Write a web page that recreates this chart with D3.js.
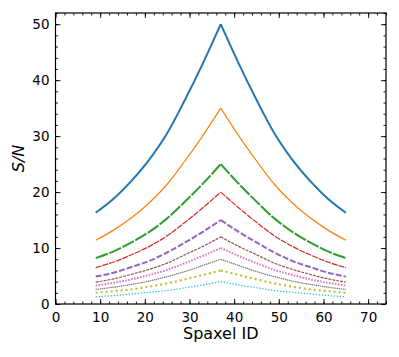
<!DOCTYPE html>
<html lang="en">
  <head>
    <meta charset="UTF-8" />
    <title>S/N per spaxel</title>
    <style>
      body {
        margin: 0;
        background: #fff;
        font-family: "DejaVu Sans", sans-serif;
      }
    </style>
  </head>
  <body>
    <script src="https://cdn.jsdelivr.net/npm/d3@7"></script>
    <script>
      // spaxel positions
      var spaxels = [9, 13, 17, 21, 25, 29, 33, 37, 41, 45, 49, 53, 57, 61, 65];

      var sn50 = [16.3, 18.8, 22.0, 25.8, 30.5, 36.5, 43.0, 50.0, 43.0, 36.5, 30.5, 25.8, 22.0, 18.8, 16.3];
      var sn35 = [11.4, 13.2, 15.4, 18.1, 21.4, 25.6, 30.1, 35.0, 30.1, 25.6, 21.4, 18.1, 15.4, 13.2, 11.4];
      var sn25 = [8.2, 9.4, 11.0, 12.9, 15.3, 18.3, 21.5, 25.0, 21.5, 18.3, 15.3, 12.9, 11.0, 9.4, 8.2];
      var sn20 = [6.5, 7.5, 8.8, 10.3, 12.2, 14.6, 17.2, 20.0, 17.2, 14.6, 12.2, 10.3, 8.8, 7.5, 6.5];
      var sn15 = [4.9, 5.6, 6.6, 7.7, 9.2, 11.0, 12.9, 15.0, 12.9, 11.0, 9.2, 7.7, 6.6, 5.6, 4.9];
      var sn12 = [3.9, 4.5, 5.3, 6.2, 7.3, 8.8, 10.3, 12.0, 10.3, 8.8, 7.3, 6.2, 5.3, 4.5, 3.9];
      var sn10 = [3.3, 3.8, 4.4, 5.2, 6.1, 7.3, 8.6, 10.0, 8.6, 7.3, 6.1, 5.2, 4.4, 3.8, 3.3];
      var sn8 = [2.6, 3.0, 3.5, 4.1, 4.9, 5.8, 6.9, 8.0, 6.9, 5.8, 4.9, 4.1, 3.5, 3.0, 2.6];
      var sn6 = [2.0, 2.3, 2.6, 3.1, 3.7, 4.4, 5.2, 6.0, 5.2, 4.4, 3.7, 3.1, 2.6, 2.3, 2.0];
      var sn4 = [1.3, 1.5, 1.8, 2.1, 2.4, 2.9, 3.4, 4.0, 3.4, 2.9, 2.4, 2.1, 1.8, 1.5, 1.3];

      var xTicks = [0, 10, 20, 30, 40, 50, 60, 70];
      var yTicks = [0, 10, 20, 30, 40, 50];

      var series = [sn50, sn35, sn25, sn20, sn15, sn12, sn10, sn8, sn6, sn4];
      var colors = ["#1f77b4", "#ff7f0e", "#2ca02c", "#d62728", "#9467bd",
                    "#8c564b", "#e377c2", "#7f7f7f", "#bcbd22", "#17becf"];
      var widths = [2, 1.2, 2, 1.2, 2, 1.2, 2, 1.2, 2, 1.2];
      var dashes = [null, null, "13,1.5", "6,1", "6,2", "3,1", "1.6,1.4", "1.5,0.6", "2,3", "1.3,1.7"];

      var W = 399, H = 357;
      var m = { left: 55.5, right: 13, top: 13, bottom: 53 };
      var peak = spaxels.indexOf(37);

      var svg = d3.select("body").append("svg").attr("width", W).attr("height", H);

      var x = d3.scaleLinear().domain([0, 74]).range([m.left, W - m.right]);
      var y = d3.scaleLinear().domain([0, 52]).range([H - m.bottom, m.top]);

      var line = d3.line()
        .x(function(d) { return x(d[0]); })
        .y(function(d) { return y(d[1]); })
        .curve(d3.curveMonotoneX);

      // each curve is drawn as two halves so the peak stays sharp
      series.forEach(function(vals, i) {
        var pts = vals.map(function(v, j) { return [spaxels[j], v]; });
        var halves = [pts.slice(0, peak + 1), pts.slice(peak)];
        svg.selectAll("path.s" + i)
          .data(halves)
          .enter()
          .append("path")
          .attr("class", "s" + i)
          .attr("d", line)
          .attr("fill", "none")
          .attr("stroke", colors[i])
          .attr("stroke-width", widths[i])
          .attr("stroke-dasharray", dashes[i]);
      });

      // ticks on all four sides, pointing in
      var xMinor = d3.range(0, 75, 2);
      var yMinor = d3.range(0, 53, 2);

      function ticks(g, axis, scale, major, minor) {
        var g1 = g.append("g");
        g1.call(axis(scale).tickValues(minor).tickSize(-2.5).tickFormat(""));
        g1.select(".domain").remove();
        var g2 = g.append("g");
        g2.call(axis(scale).tickValues(major).tickSize(-5).tickPadding(8).tickFormat(d3.format("d")));
        g2.select(".domain").remove();
        g.selectAll("line").attr("stroke", "#000").attr("stroke-width", 0.9);
        g.selectAll("text").attr("font-size", 13.5).attr("fill", "#000")
          .attr("font-family", "DejaVu Sans, sans-serif");
      }

      var gBottom = svg.append("g").attr("transform", "translate(0," + y(0) + ")");
      ticks(gBottom, d3.axisBottom, x, xTicks, xMinor);
      var gTop = svg.append("g").attr("transform", "translate(0," + y(52) + ")");
      ticks(gTop, d3.axisTop, x, xTicks, xMinor);
      gTop.selectAll("text").remove();
      var gLeft = svg.append("g").attr("transform", "translate(" + x(0) + ",0)");
      ticks(gLeft, d3.axisLeft, y, yTicks, yMinor);
      var gRight = svg.append("g").attr("transform", "translate(" + x(74) + ",0)");
      ticks(gRight, d3.axisRight, y, yTicks, yMinor);
      gRight.selectAll("text").remove();

      gLeft.selectAll("text").attr("dx", "2");

      svg.append("rect")
        .attr("x", x(0)).attr("y", y(52))
        .attr("width", x(74) - x(0)).attr("height", y(0) - y(52))
        .attr("fill", "none").attr("stroke", "#000").attr("stroke-width", 1.2);

      svg.append("text")
        .attr("x", (x(0) + x(74)) / 2)
        .attr("y", 339)
        .attr("text-anchor", "middle")
        .attr("font-size", 16)
        .text("Spaxel ID");

      svg.append("text")
        .attr("transform", "translate(24," + y(26) + ") rotate(-90)")
        .attr("text-anchor", "middle")
        .attr("font-size", 16)
        .attr("font-style", "italic")
        .text("S/N");
    </script>
  </body>
</html>
